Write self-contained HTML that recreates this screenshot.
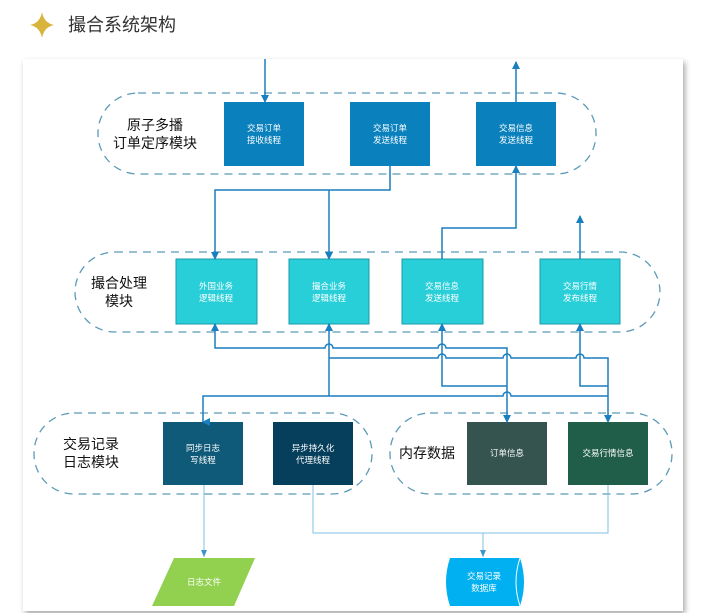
<!DOCTYPE html>
<html><head><meta charset="utf-8"><style>
html,body{margin:0;padding:0;background:#fff;width:716px;height:613px;overflow:hidden}
svg{display:block}
text{font-family:"Liberation Sans","Noto Sans CJK SC",sans-serif}
</style></head><body>
<svg width="716" height="613" viewBox="0 0 716 613" xmlns="http://www.w3.org/2000/svg">
<defs>
<filter id="sh" x="-5%" y="-5%" width="110%" height="110%"><feDropShadow dx="2" dy="3" stdDeviation="3" flood-color="#000" flood-opacity="0.35"/></filter>
<marker id="a" markerWidth="8" markerHeight="8" refX="4" refY="7" orient="auto-start-reverse" markerUnits="userSpaceOnUse"><path d="M0,0 L8,0 L4,8 z" fill="#1a7fbf"/></marker>
<marker id="au" markerWidth="8" markerHeight="8" refX="4" refY="1" orient="0" markerUnits="userSpaceOnUse"><path d="M0,8 L8,8 L4,0 z" fill="#1a7fbf"/></marker>
<marker id="ad" markerWidth="8" markerHeight="8" refX="4" refY="7" orient="0" markerUnits="userSpaceOnUse"><path d="M0,0 L8,0 L4,8 z" fill="#1a7fbf"/></marker>
<marker id="adl" markerWidth="8" markerHeight="8" refX="4" refY="7" orient="0" markerUnits="userSpaceOnUse"><path d="M1,0 L7,0 L4,7 z" fill="#3b95cc"/></marker>
</defs>
<!-- title -->
<path d="M42,12 Q44,23 54,25 Q44,27 42,38 Q40,27 30,25 Q40,23 42,12z" fill="#d9b43c"/>
<text x="68" y="31" font-size="18" fill="#333">撮合系统架构</text>
<!-- card -->
<rect x="23" y="59" width="660" height="552" fill="#fff" filter="url(#sh)"/>
<g fill="none" stroke="#5b9ab8" stroke-width="1.3" stroke-dasharray="8,6">
<rect x="98" y="93" width="498" height="81" rx="40"/>
<rect x="75" y="252" width="585" height="80" rx="40"/>
<rect x="34" y="413" width="338" height="81" rx="40"/>
<rect x="390" y="413" width="282" height="81" rx="40"/>
</g>
<!-- top boxes -->
<g fill="#0a80bd"><rect x="224" y="102" width="80" height="64"/><rect x="350" y="102" width="80" height="64"/><rect x="476" y="102" width="80" height="64"/></g>
<!-- mid boxes -->
<g fill="#29cfd8" stroke="#1a9aa8" stroke-width="1"><rect x="176" y="259" width="81" height="65"/><rect x="289" y="259" width="80" height="65"/><rect x="402" y="259" width="81" height="65"/><rect x="540" y="259" width="80" height="65"/></g>
<!-- bottom boxes -->
<rect x="163" y="422" width="80" height="63" fill="#0f5a78"/>
<rect x="273" y="422" width="80" height="63" fill="#053f5c"/>
<rect x="467" y="422" width="80" height="63" fill="#35544f"/>
<rect x="568" y="422" width="80" height="63" fill="#205e49"/>
<!-- connectors -->
<g fill="none" stroke="#1a7fbf" stroke-width="1.5">
<path d="M265,59 V102" marker-end="url(#ad)"/>
<path d="M516,102 V62" marker-end="url(#au)"/>
<path d="M390,166 V190 H215 V259" marker-end="url(#ad)"/>
<path d="M329,190 V259" marker-end="url(#ad)"/>
<path d="M442,259 V228 H516 V166" marker-end="url(#au)"/>
<path d="M580,259 V216" marker-end="url(#au)"/>
<path d="M215,324 V348 H325 a4,4 0 0 1 8,0 H438 a4,4 0 0 1 8,0 H507 V422" marker-start="url(#au)" marker-end="url(#ad)"/>
<path d="M329,324 V396" marker-start="url(#au)"/>
<path d="M329,358 H438 a4,4 0 0 1 8,0 H503 a4,4 0 0 1 8,0 H576 a4,4 0 0 1 8,0 H608 V422" marker-end="url(#ad)"/>
<path d="M442,324 V386 H507" marker-start="url(#au)"/>
<path d="M580,324 V386 H608" marker-start="url(#au)"/>
<path d="M203,422 V396 H503 a4,4 0 0 1 8,0 H608" marker-start="url(#a)"/>
</g>
<g fill="none" stroke="#7fc0e0" stroke-width="1">
<path d="M204,485 V557" marker-end="url(#adl)"/>
<path d="M313,485 V533 H608 V485"/>
<path d="M483,533 V557" marker-end="url(#adl)"/>
</g>
<!-- outputs -->
<path d="M174,558 H255 L234,606 H152 z" fill="#92d050"/>
<path d="M450,558 H520 Q528,582 520,606 H450 Q442,582 450,558z" fill="#00b0f0"/>
<path d="M520,558 Q512,582 520,606" fill="none" stroke="#fff" stroke-width="1"/>
<!-- labels -->
<g font-size="14" fill="#111" text-anchor="middle">
<text x="155" y="130">原子多播</text><text x="155" y="148">订单定序模块</text>
<text x="119" y="288">撮合处理</text><text x="119" y="306">模块</text>
<text x="91" y="449">交易记录</text><text x="91" y="467">日志模块</text>
<text x="427" y="458">内存数据</text>
</g>
<g font-size="8.5" fill="#fff" text-anchor="middle">
<text x="264" y="131">交易订单</text><text x="264" y="143">接收线程</text>
<text x="390" y="131">交易订单</text><text x="390" y="143">发送线程</text>
<text x="516" y="131">交易信息</text><text x="516" y="143">发送线程</text>
<text x="216" y="289">外国业务</text><text x="216" y="301">逻辑线程</text>
<text x="329" y="289">撮合业务</text><text x="329" y="301">逻辑线程</text>
<text x="442" y="289">交易信息</text><text x="442" y="301">发送线程</text>
<text x="580" y="289">交易行情</text><text x="580" y="301">发布线程</text>
<text x="203" y="451">同步日志</text><text x="203" y="463">写线程</text>
<text x="313" y="451">异步持久化</text><text x="313" y="463">代理线程</text>
<text x="507" y="456">订单信息</text>
<text x="608" y="456">交易行情信息</text>
<text x="204" y="585">日志文件</text>
<text x="484" y="579">交易记录</text><text x="484" y="591">数据库</text>
</g>
</svg>
</body></html>
